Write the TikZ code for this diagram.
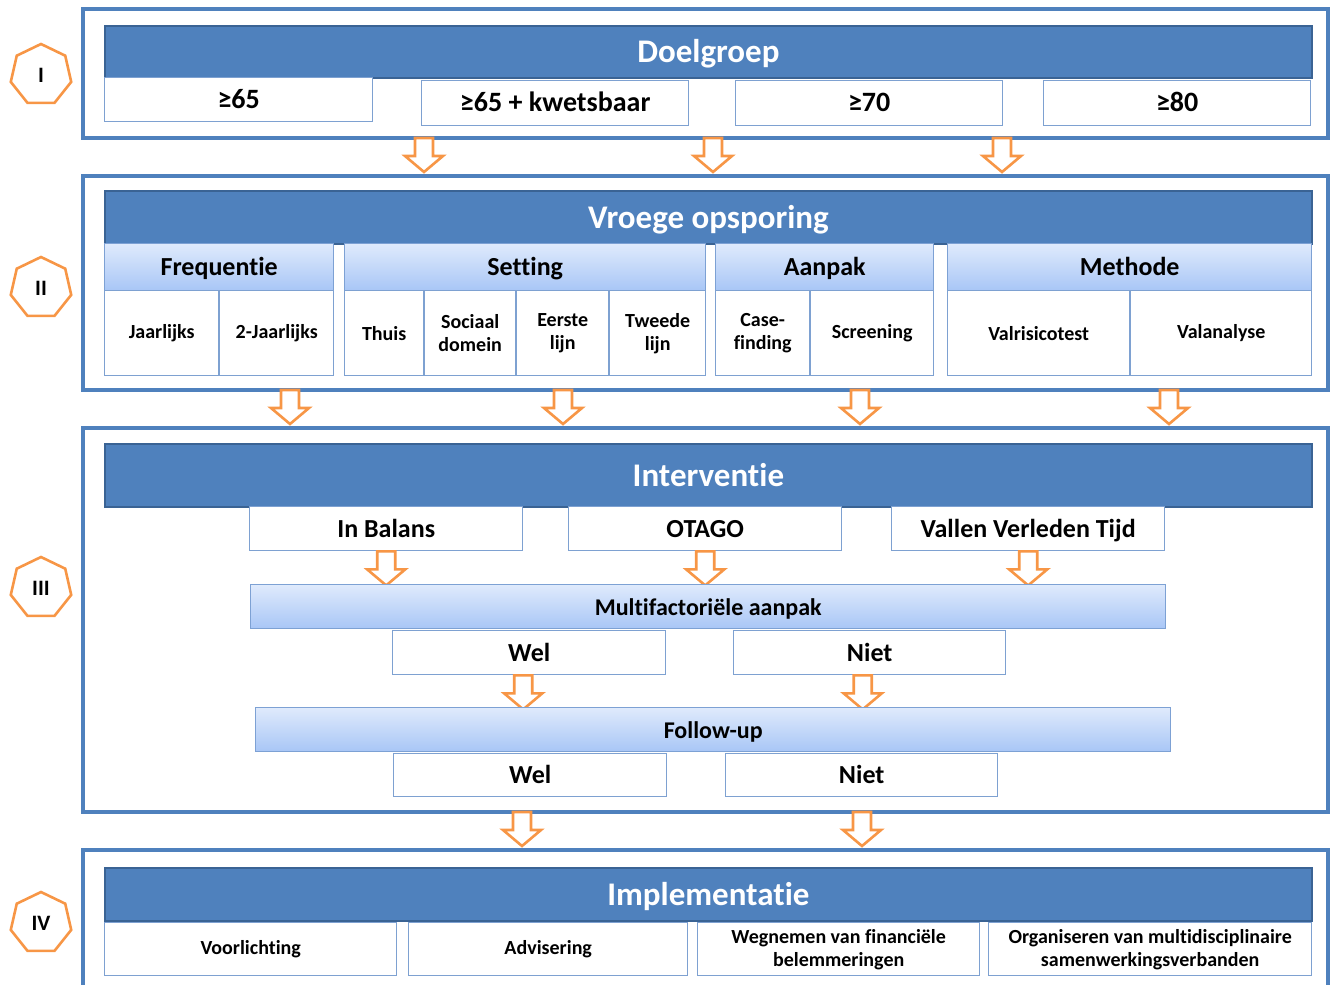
\documentclass[tikz,border=0pt]{standalone}
\usepackage{fontspec}
\setmainfont{Carlito}[Ligatures={NoCommon,NoDiscretionary}]
\usetikzlibrary{shapes.geometric,positioning}

\definecolor{secblue}{HTML}{4F81BD}
\definecolor{headblue}{HTML}{4F81BD}
\definecolor{headline}{HTML}{3A6394}
\definecolor{catline}{HTML}{7DA1D4}
\definecolor{cattop}{HTML}{DFEAFC}
\definecolor{catbot}{HTML}{A8C6F6}
\definecolor{leafline}{HTML}{7EA1D1}
\definecolor{arrorange}{HTML}{F79646}

\tikzset{
  sectbox/.style={draw=secblue, line width=1.6pt},
  headbox/.style={draw=headline, fill=headblue, line width=0.9pt, anchor=north west, inner sep=0pt,
    text=white, minimum width=603.5pt, text height=13.2pt, text depth=2.5pt,
    font=\bfseries\fontsize{16.5}{18}\selectfont},
  catbox/.style={draw=catline, top color=cattop, bottom color=catbot, line width=0.7pt,
    anchor=north west, inner sep=0pt, text height=10.4pt, text depth=2pt,
    font=\bfseries\fontsize{13}{15}\selectfont},
  leafbox/.style={draw=leafline, fill=white, line width=0.7pt, anchor=north west, inner sep=0pt,
    align=center, font=\bfseries\fontsize{10}{11.5}\selectfont},
  bigleaf/.style={leafbox, text height=10.4pt, text depth=2pt, font=\bfseries\fontsize{13}{15}\selectfont},
  badge/.style={regular polygon, regular polygon sides=7, draw=arrorange, line width=1.3pt,
    minimum size=31pt, inner sep=0pt, font=\bfseries\fontsize{11}{12}\selectfont},
  downarr/.pic={\draw[draw=arrorange, fill=white, line width=1.3pt, line join=miter]
    (-9,0) -- (9,0) -- (9,18) -- (19,18) -- (0,34) -- (-19,18) -- (-9,18) -- cycle;}
}

\begin{document}
\begin{tikzpicture}[x=0.5pt,y=-0.5pt]
\useasboundingbox (0,0) rectangle (1333,985);

% badges
\node[badge] (b1) at (41,75) {I};
\node[badge] (b2) at (41,288) {II};
\node[badge] (b3) at (41,588) {III};
\node[badge] (b4) at (41,923) {IV};

% I doelgroep
\draw[sectbox] (83,9) rectangle (1328,138);
\node[headbox, minimum height=26pt] (doel) at (104,25) {Doelgroep};
\node[bigleaf, font=\bfseries\fontsize{14}{16}\selectfont, minimum width=134pt, minimum height=22pt] (g1) at (104,77) {≥65};
\foreach \n/\x/\t in {2/421/≥65 + kwetsbaar, 3/735/≥70, 4/1043/≥80}
{
  \node[bigleaf, font=\bfseries\fontsize{14}{16}\selectfont, minimum width=133.5pt, minimum height=22.5pt] (g\n) at (\x,80) {\t};
}
\foreach \x in {424,713,1002}
  \pic at (\x,138) {downarr};

% II vroege opsporing
\draw[sectbox] (83,176) rectangle (1328,390);
\node[headbox, minimum height=26.5pt] (vroeg) at (104,190) {Vroege opsporing};
\foreach \n/\x/\w/\t in {freq/104/114.5/Frequentie, sett/344/180.5/Setting, aanp/715/109/Aanpak, meth/947/182/Methode}
{
  \node[catbox, minimum width=\w pt, minimum height=23.5pt] (\n) at (\x,243) {\t};
}
\foreach \n/\x/\w/\t in {jaar/104/57/Jaarlijks, tweej/219/57/2-Jaarlijks, thuis/344/39.5/Thuis,
  soc/424/45.5/Sociaal\\domein, eerst/516/46/Eerste\\lijn, tweed/609/48/Tweede\\lijn,
  case/715/47/Case-\\finding, scr/810/61.5/Screening, valr/947/91/Valrisicotest, vala/1130/90.5/Valanalyse}
{
  \node[leafbox, minimum width=\w pt, minimum height=42.5pt] (\n) at (\x,290) {\t};
}
\foreach \x in {290,563,860,1169}
  \pic at (\x,390) {downarr};

% III interventie
\draw[sectbox] (83,428) rectangle (1328,812);
\node[headbox, minimum height=31.5pt] (interv) at (104,443) {Interventie};
\foreach \n/\x/\t in {inb/249/In Balans, otago/568/OTAGO, vallen/891/Vallen Verleden Tijd}
{
  \node[bigleaf, minimum width=136.5pt, minimum height=22pt] (\n) at (\x,506) {\t};
  \pic at (\n.south) {downarr};
}
\node[catbox, font=\bfseries\fontsize{12}{14}\selectfont, minimum width=457.5pt, minimum height=22pt] (multi) at (250,584) {Multifactoriële aanpak};
\node[bigleaf, minimum width=136.5pt, minimum height=22pt] (wel1) at (392,630) {Wel};
\node[bigleaf, minimum width=136pt, minimum height=22pt] (niet1) at (733,630) {Niet};
\pic at ([xshift=-3pt]wel1.south) {downarr};
\pic at ([xshift=-3.5pt]niet1.south) {downarr};
\node[catbox, font=\bfseries\fontsize{12}{14}\selectfont, minimum width=457.5pt, minimum height=22pt] (follow) at (255,707) {Follow-up};
\node[bigleaf, minimum width=136.5pt, minimum height=21.5pt] (wel2) at (393,753) {Wel};
\node[bigleaf, minimum width=136pt, minimum height=21.5pt] (niet2) at (725,753) {Niet};
\foreach \x in {522,862}
  \pic at (\x,812) {downarr};

% IV implementatie
\draw[sectbox] (83,995) -- (83,850) -- (1328,850) -- (1328,995);
\node[headbox, minimum height=26.5pt] (impl) at (104,867) {Implementatie};
\foreach \n/\x/\w/\t in {voorl/104/146/Voorlichting, advis/408/139.5/Advisering,
  wegn/697/141/Wegnemen van financiële\\belemmeringen, organ/988/161.5/Organiseren van multidisciplinaire\\samenwerkingsverbanden}
{
  \node[leafbox, minimum width=\w pt, minimum height=26.5pt] (\n) at (\x,922) {\t};
}
\end{tikzpicture}
\end{document}
